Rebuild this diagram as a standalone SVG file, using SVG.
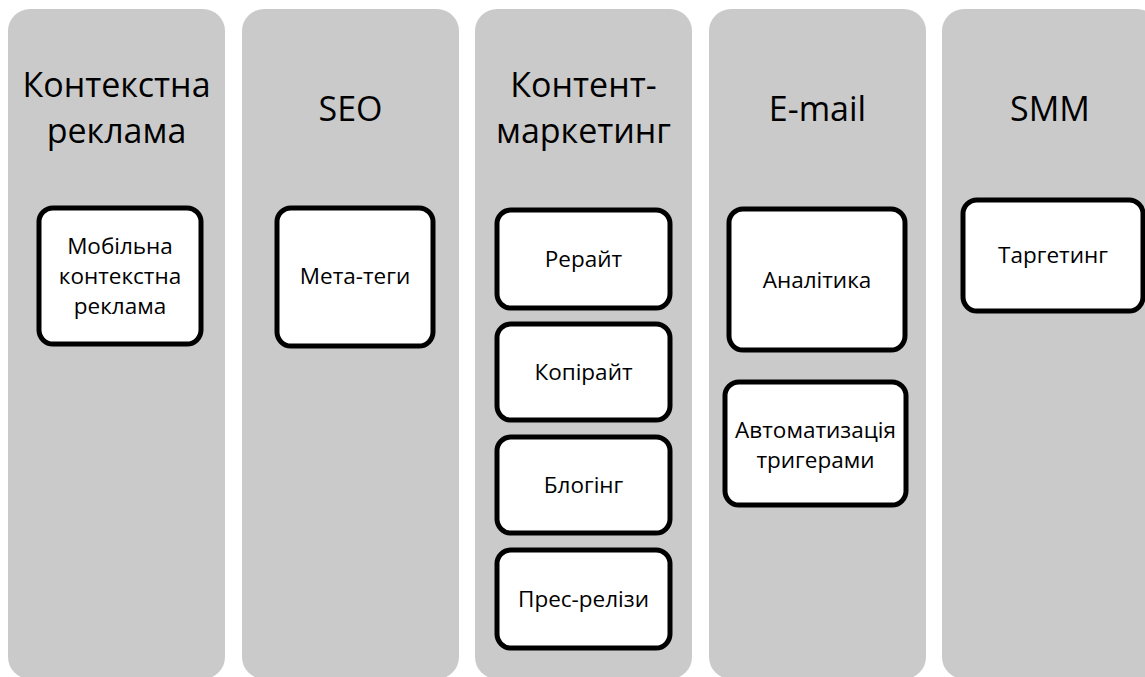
<svg xmlns="http://www.w3.org/2000/svg" width="1145" height="677" viewBox="0 0 1145 677">
  <style>
    .col { fill: #cacaca; }
    .box { fill: #ffffff; stroke: #000000; stroke-width: 5; }
    .title { font-family: "Open Sans", "Noto Sans", sans-serif; font-size: 34px; fill: #000; text-anchor: middle; }
    .label { font-family: "Open Sans", "Noto Sans", sans-serif; font-size: 22.5px; fill: #000; text-anchor: middle; }
  </style>

  <!-- Column 1: contextual advertising -->
  <g id="col-context">
    <rect class="col" x="8" y="9" width="217" height="670" rx="22"/>
    <text class="title" x="116.5" y="97">Контекстна</text>
    <text class="title" x="116.5" y="143">реклама</text>
  </g>
  <g id="node-mobile">
    <rect class="box" x="39" y="208" width="162" height="136" rx="14"/>
    <text class="label" x="120" y="254">Мобільна</text>
    <text class="label" x="120" y="284">контекстна</text>
    <text class="label" x="120" y="314">реклама</text>
  </g>

  <!-- Column 2: SEO -->
  <g id="col-seo">
    <rect class="col" x="242" y="9" width="217" height="670" rx="22"/>
    <text class="title" x="350.5" y="121">SEO</text>
  </g>
  <g id="node-meta">
    <rect class="box" x="277" y="208" width="156" height="138" rx="14"/>
    <text class="label" x="355" y="284">Мета-теги</text>
  </g>

  <!-- Column 3: content marketing -->
  <g id="col-content">
    <rect class="col" x="475" y="9" width="217" height="670" rx="22"/>
    <text class="title" x="583.5" y="97">Контент-</text>
    <text class="title" x="583.5" y="143">маркетинг</text>
  </g>
  <g id="node-rewrite">
    <rect class="box" x="497" y="210" width="173" height="98" rx="14"/>
    <text class="label" x="583.5" y="267">Рерайт</text>
  </g>
  <g id="node-copywrite">
    <rect class="box" x="497" y="324" width="173" height="96" rx="14"/>
    <text class="label" x="583.5" y="380">Копірайт</text>
  </g>
  <g id="node-blogging">
    <rect class="box" x="497" y="437" width="173" height="96" rx="14"/>
    <text class="label" x="583.5" y="493">Блогінг</text>
  </g>
  <g id="node-press">
    <rect class="box" x="497" y="550" width="173" height="98" rx="14"/>
    <text class="label" x="583.5" y="607">Прес-релізи</text>
  </g>

  <!-- Column 4: e-mail -->
  <g id="col-email">
    <rect class="col" x="709" y="9" width="217" height="670" rx="22"/>
    <text class="title" x="817.5" y="121">E-mail</text>
  </g>
  <g id="node-analytics">
    <rect class="box" x="729" y="209" width="176" height="141" rx="14"/>
    <text class="label" x="817" y="288">Аналітика</text>
  </g>
  <g id="node-automation">
    <rect class="box" x="725" y="382" width="181" height="123" rx="14"/>
    <text class="label" x="815.5" y="438">Автоматизація</text>
    <text class="label" x="815.5" y="468">тригерами</text>
  </g>

  <!-- Column 5: SMM -->
  <g id="col-smm">
    <rect class="col" x="942" y="9" width="217" height="670" rx="22"/>
    <text class="title" x="1050" y="121">SMM</text>
  </g>
  <g id="node-targeting">
    <rect class="box" x="963" y="200" width="180" height="111" rx="14"/>
    <text class="label" x="1053" y="263">Таргетинг</text>
  </g>

  <g id="connectors"></g>
</svg>
